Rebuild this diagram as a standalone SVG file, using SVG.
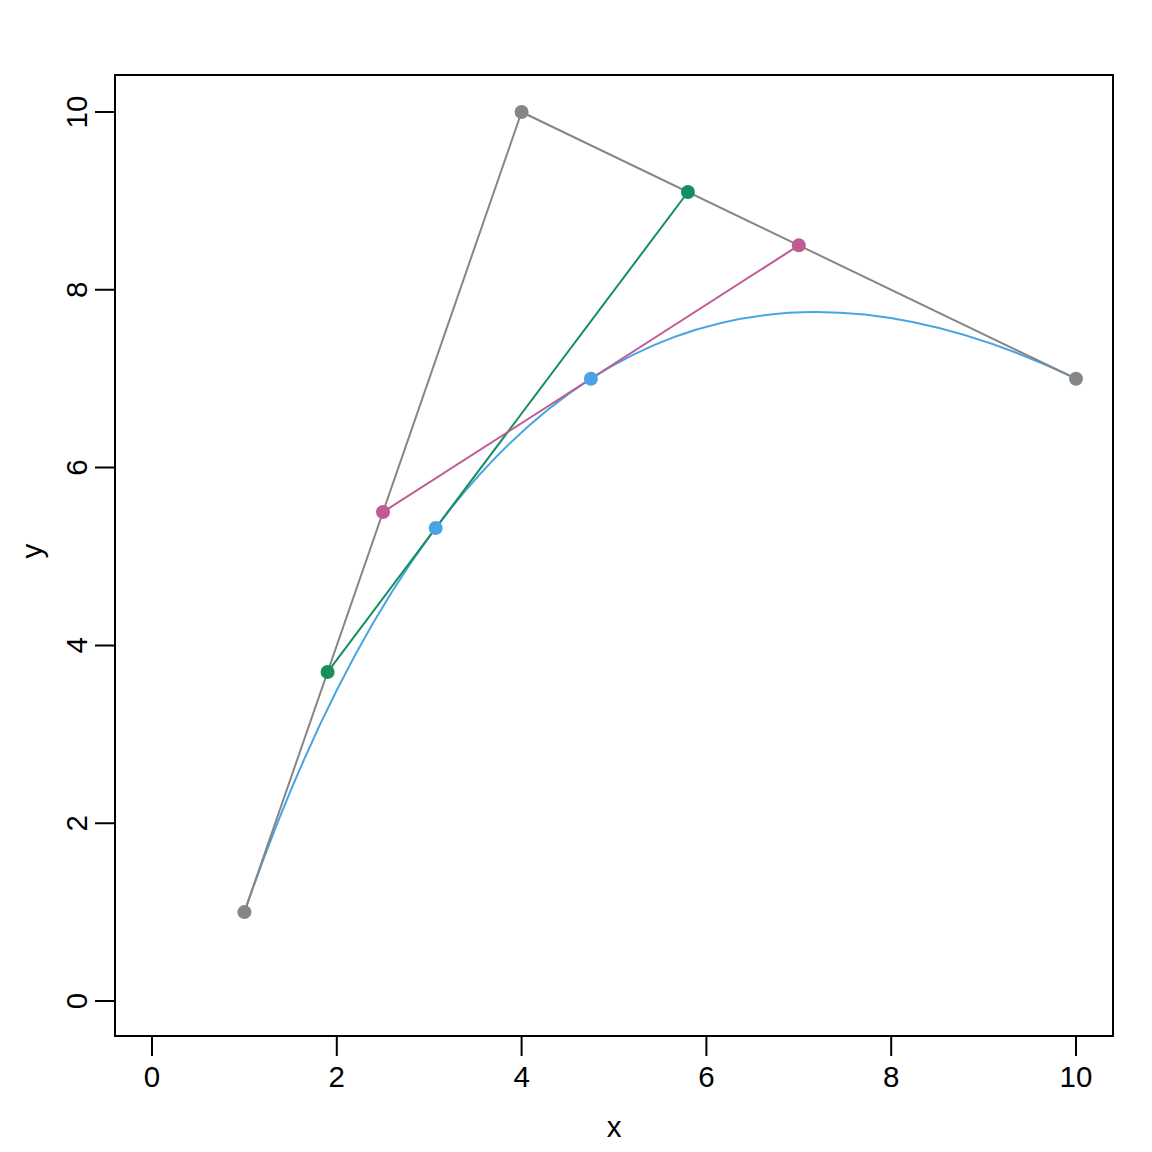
<svg xmlns="http://www.w3.org/2000/svg" width="1152" height="1152" viewBox="0 0 1152 1152">
<style>
text{font-family:"Liberation Sans",Arial,sans-serif;font-size:29.5px;fill:#000}
.ax{stroke:#000;stroke-width:2;fill:none}
.g{stroke:#868686;stroke-width:2;fill:none}
.gr{stroke:#168F5F;stroke-width:2;fill:none}
.pk{stroke:#C05A94;stroke-width:2;fill:none}
.bl{stroke:#48A4E4;stroke-width:2;fill:none}
</style>
<rect width="1152" height="1152" fill="#fff"/>
<g id="axes">
<rect class="ax" x="115" y="75" width="998" height="961"/>
<path class="ax" d="M152 1036V1056M336.8 1036V1056M521.6 1036V1056M706.4 1036V1056M891.2 1036V1056M1076 1036V1056"/>
<path class="ax" d="M95 1001H115M95 823.2H115M95 645.4H115M95 467.6H115M95 289.8H115M95 112H115"/>
<g text-anchor="middle">
<text x="152" y="1087">0</text><text x="336.8" y="1087">2</text><text x="521.6" y="1087">4</text><text x="706.4" y="1087">6</text><text x="891.2" y="1087">8</text><text x="1076" y="1087">10</text>
<text transform="translate(87 1001) rotate(-90)">0</text>
<text transform="translate(87 823.2) rotate(-90)">2</text>
<text transform="translate(87 645.4) rotate(-90)">4</text>
<text transform="translate(87 467.6) rotate(-90)">6</text>
<text transform="translate(87 289.8) rotate(-90)">8</text>
<text transform="translate(87 112) rotate(-90)">10</text>
<text x="614" y="1137">x</text>
<text transform="translate(42 551) rotate(-90)">y</text>
</g>
</g>
<g id="connectors">
<path class="bl" d="M244.4 912.1Q521.6 112 1076 378.7"/>
<path class="g" d="M244.4 912.1L521.6 112L1076 378.7"/>
<path class="gr" d="M327.56 672.07L687.92 191.99"/>
<path class="pk" d="M383 512.05L798.8 245.35"/>
</g>
<g id="p0"><circle cx="244.4" cy="912.1" r="7" fill="#868686"/></g>
<g id="p1"><circle cx="521.6" cy="112" r="7" fill="#868686"/></g>
<g id="p2"><circle cx="1076" cy="378.7" r="7" fill="#868686"/></g>
<g id="g1"><circle cx="327.56" cy="672.07" r="7" fill="#168F5F"/></g>
<g id="g2"><circle cx="687.92" cy="191.99" r="7" fill="#168F5F"/></g>
<g id="k1"><circle cx="383" cy="512.05" r="7" fill="#C05A94"/></g>
<g id="k2"><circle cx="798.8" cy="245.35" r="7" fill="#C05A94"/></g>
<g id="b1"><circle cx="435.67" cy="528.05" r="7" fill="#48A4E4"/></g>
<g id="b2"><circle cx="590.9" cy="378.7" r="7" fill="#48A4E4"/></g>
</svg>
